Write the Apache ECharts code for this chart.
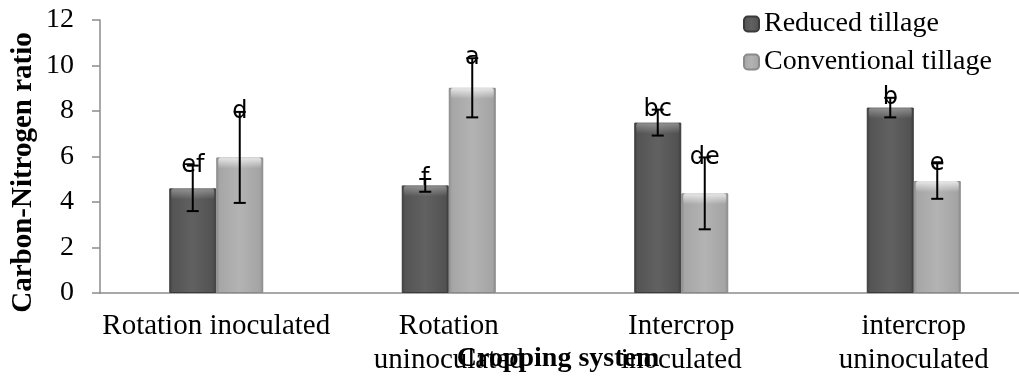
<!DOCTYPE html>
<html>
<head>
<meta charset="utf-8">
<script src="https://cdn.jsdelivr.net/npm/echarts@6/dist/echarts.min.js"></script>
<style>
  html, body { margin: 0; padding: 0; background: #fff; }
  #chart { width: 1019px; height: 378px; }
</style>
</head>
<body>
<div id="chart"></div>
<script>
// Carbon-Nitrogen ratio by cropping system and tillage practice
const categories = ['Rotation inoculated', 'Rotation\nuninoculated', 'Intercrop\ninoculated', 'intercrop\nuninoculated'];
const reducedTillage = [4.6, 4.73, 7.49, 8.15];
const conventionalTillage = [5.96, 9.02, 4.38, 4.92];
const reducedError = [1.0, 0.28, 0.57, 0.43];
const conventionalError = [2.0, 1.3, 1.58, 0.78];
const reducedLetters = ['ef', 'f', 'bc', 'b'];
const conventionalLetters = ['d', 'a', 'de', 'e'];
const seriesNames = ['Reduced tillage', 'Conventional tillage'];
const yMin = 0, yMax = 12, yStep = 2;

const serif = '"Liberation Serif", "Times New Roman", serif';
const BAR_W = 47;

function hGrad(stops) {
  return { type: 'linear', x: 0, y: 0, x2: 1, y2: 0,
    colorStops: stops.map(s => ({ offset: s[0], color: s[1] })) };
}
const darkFill = hGrad([[0, '#3e3e3e'], [0.07, '#545454'], [0.5, '#616161'], [0.93, '#525252'], [1, '#3b3b3b']]);
const lightFill = hGrad([[0, '#8c8c8c'], [0.07, '#a6a6a6'], [0.5, '#b3b3b3'], [0.93, '#a4a4a4'], [1, '#8a8a8a']]);

// overlay: top bevel highlight, error bar and significance letter for each bar
function overlay(values, errors, letters, side, glow) {
  return {
    type: 'custom',
    silent: true,
    z: 5,
    data: values.map((v, i) => [i, v, errors[i]]),
    encode: { x: 0, y: 1 },
    renderItem: function (params, api) {
      const i = api.value(0), v = api.value(1), e = api.value(2);
      const top = api.coord([i, v]);
      const cx = top[0] + side * BAR_W / 2;
      const yHi = api.coord([i, v + e])[1];
      const yLo = api.coord([i, v - e])[1];
      const x0 = cx - BAR_W / 2;
      return {
        type: 'group',
        children: [
          { type: 'rect', shape: { x: x0 + 2, y: top[1], width: BAR_W - 4, height: 11, r: 3 },
            style: { fill: { type: 'linear', x: 0, y: 0, x2: 0, y2: 1,
              colorStops: [{ offset: 0, color: 'rgba(255,255,255,' + glow + ')' },
                           { offset: 1, color: 'rgba(255,255,255,0)' }] } } },
          { type: 'line', shape: { x1: cx, y1: yHi, x2: cx, y2: yLo }, style: { stroke: '#000', lineWidth: 2 } },
          { type: 'line', shape: { x1: cx - 6, y1: yHi, x2: cx + 6, y2: yHi }, style: { stroke: '#000', lineWidth: 2 } },
          { type: 'line', shape: { x1: cx - 6, y1: yLo, x2: cx + 6, y2: yLo }, style: { stroke: '#000', lineWidth: 2 } },
          { type: 'text', x: cx, y: yHi,
            style: { text: letters[params.dataIndex], fill: '#000', font: '24px "DejaVu Sans", sans-serif',
              align: 'center', verticalAlign: 'middle' } }
        ]
      };
    }
  };
}

const chart = echarts.init(document.getElementById('chart'));
chart.setOption({
  animation: false,
  backgroundColor: '#fff',
  grid: { left: 100, top: 20, width: 930, height: 273, outerBoundsMode: 'none', containLabel: false },
  legend: {
    orient: 'vertical', left: 738, top: 5, itemWidth: 15, itemHeight: 15, itemGap: 10,
    data: seriesNames,
    textStyle: { fontFamily: serif, fontSize: 28, color: '#000' }
  },
  xAxis: {
    type: 'category',
    data: categories,
    name: 'Cropping system',
    nameLocation: 'middle',
    nameGap: 52,
    nameMoveOverlap: false,
    nameTextStyle: { fontFamily: serif, fontSize: 28, fontWeight: 'bold', color: '#000', padding: [0, 14, 0, 0] },
    axisLine: { lineStyle: { color: '#8c8c8c', width: 1.5 } },
    axisTick: { show: false },
    axisLabel: { interval: 0, margin: 16, fontFamily: serif, fontSize: 29, lineHeight: 34, color: '#000' }
  },
  yAxis: {
    type: 'value',
    min: yMin, max: yMax, interval: yStep,
    name: 'Carbon-Nitrogen ratio',
    nameLocation: 'middle',
    nameGap: 62,
    nameMoveOverlap: false,
    nameTextStyle: { fontFamily: serif, fontSize: 29, fontWeight: 'bold', color: '#000', padding: [0, 32, 0, 0] },
    splitLine: { show: false },
    axisLine: { show: true, lineStyle: { color: '#8c8c8c', width: 1.5 } },
    axisTick: { show: true, length: 8, lineStyle: { color: '#8c8c8c', width: 1.5 } },
    axisLabel: { margin: 26, fontFamily: serif, fontSize: 28, color: '#000' }
  },
  series: [
    { name: seriesNames[0], type: 'bar', data: reducedTillage, barWidth: BAR_W, barGap: '0%',
      itemStyle: { color: darkFill, borderColor: '#3a3a3a', borderWidth: 1 } },
    { name: seriesNames[1], type: 'bar', data: conventionalTillage, barWidth: BAR_W, barGap: '0%',
      itemStyle: { color: lightFill, borderColor: '#8a8a8a', borderWidth: 1 } },
    overlay(reducedTillage, reducedError, reducedLetters, -1, 0.35),
    overlay(conventionalTillage, conventionalError, conventionalLetters, 1, 0.75)
  ]
});
</script>
</body>
</html>
